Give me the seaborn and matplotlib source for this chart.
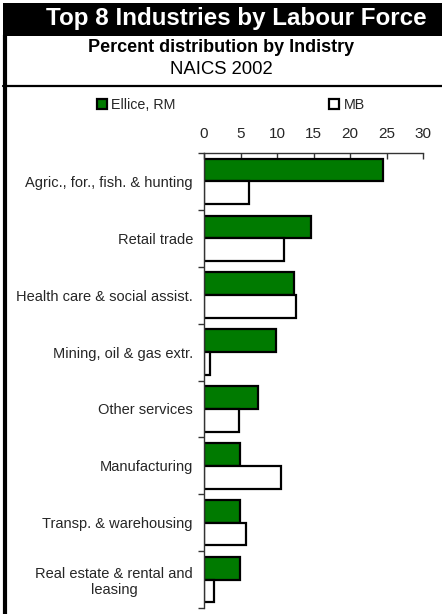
import matplotlib
matplotlib.use("Agg")
import matplotlib.pyplot as plt
import matplotlib.patches as mpatches
import matplotlib.lines as mlines
from matplotlib.ticker import FixedLocator
import numpy as np
import pandas as pd
import seaborn as sns

# ── data ────────────────────────────────────────────────────────────────
industries = [
    "Agric., for., fish. & hunting",
    "Retail trade",
    "Health care & social assist.",
    "Mining, oil & gas extr.",
    "Other services",
    "Manufacturing",
    "Transp. & warehousing",
    "Real estate & rental and\nleasing",
]
ellice = [24.5, 14.7, 12.3, 9.8, 7.4, 4.9, 4.9, 4.9]
mb = [6.1, 10.9, 12.6, 0.8, 4.8, 10.5, 5.8, 1.4]
series = ["Ellice, RM", "MB"]
x_ticks = [0, 5, 10, 15, 20, 25, 30]

df = pd.DataFrame({
    "industry": industries * 2,
    "pct": ellice + mb,
    "area": [series[0]] * len(industries) + [series[1]] * len(industries),
})

# ── style ───────────────────────────────────────────────────────────────
sns.set_theme(style="white")
plt.rcParams["font.family"] = ["Liberation Sans", "DejaVu Sans"]

W, H = 442, 614
fig = plt.figure(figsize=(W / 100, H / 100), dpi=100)
ax = fig.add_axes([204 / W, 1 - 608 / H, 219 / W, 455 / H])

sns.barplot(
    data=df, y="industry", x="pct", hue="area", order=industries,
    hue_order=series, palette={series[0]: "#007A00", series[1]: "white"},
    edgecolor="black", linewidth=1.6, width=0.8, ax=ax, legend=True,
    saturation=1,
)

ax.set_xlim(0, 30)
ax.set_ylim(len(industries) - 0.5, -0.5)
ax.xaxis.set_major_locator(FixedLocator(x_ticks))
ax.xaxis.tick_top()
ax.tick_params(axis="x", which="major", direction="in", length=4, width=1,
               color="#333333", labelsize=11, pad=9, top=True, bottom=False)
ax.set_xlabel("")
ax.set_ylabel("")

# category boundary ticks on y
ax.yaxis.set_minor_locator(FixedLocator(np.arange(-0.5, len(industries), 1)))
ax.tick_params(axis="y", which="major", length=0, labelsize=10.5, pad=8)
ax.tick_params(axis="y", which="minor", direction="out", length=4, width=1,
               color="#333333", left=True)
for lab in ax.get_yticklabels():
    lab.set_multialignment("center")

for side in ["right", "bottom"]:
    ax.spines[side].set_visible(False)
for side in ["top", "left"]:
    ax.spines[side].set_color("#333333")
    ax.spines[side].set_linewidth(1)

# legend
handles, labels = ax.get_legend_handles_labels()
ax.legend(
    handles, labels, ncol=2, frameon=False, loc="center left",
    bbox_to_anchor=(84 / W, 1 - 105 / H), bbox_transform=fig.transFigure,
    fontsize=10.3, handlelength=0.7, handleheight=0.7, handletextpad=0.3,
    columnspacing=10.75,
)
for h in ax.get_legend().legend_handles:
    h.set_linewidth(1.6)

# ── header / frame ──────────────────────────────────────────────────────
fig.patches.append(mpatches.Rectangle(
    (3 / W, 1 - 36 / H), 1, 33 / H, transform=fig.transFigure,
    facecolor="black", edgecolor="none"))
fig.lines.append(mlines.Line2D(
    [5 / W, 5 / W], [0, 1 - 35 / H], transform=fig.transFigure,
    color="black", linewidth=3))
fig.lines.append(mlines.Line2D(
    [3 / W, 1], [1 - 86 / H, 1 - 86 / H], transform=fig.transFigure,
    color="black", linewidth=1.6))

fig.text(236 / W, 1 - 19 / H, "Top 8 Industries by Labour Force",
         color="white", fontsize=17.4, fontweight="bold",
         ha="center", va="center")
fig.text(221 / W, 1 - 48 / H, "Percent distribution by Indistry",
         color="black", fontsize=13, fontweight="bold",
         ha="center", va="center")
fig.text(221 / W, 1 - 70 / H, "NAICS 2002", color="black", fontsize=13.3,
         ha="center", va="center")

fig.savefig("out.png", dpi=100)
